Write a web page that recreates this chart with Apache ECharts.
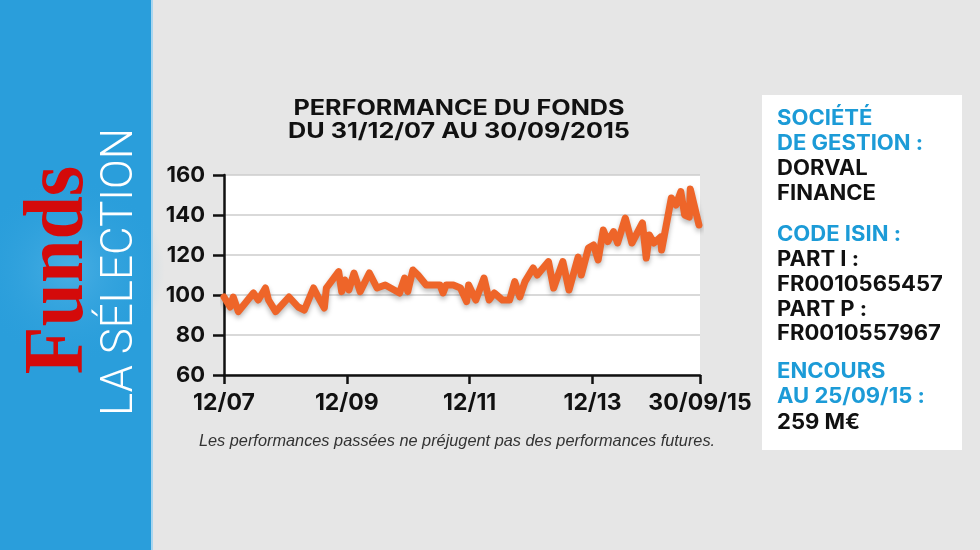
<!DOCTYPE html>
<html><head><meta charset="utf-8">
<script src="https://cdn.jsdelivr.net/npm/echarts@6/dist/echarts.min.js"></script>
<style>html,body{margin:0;padding:0;background:#e6e6e6;}#c{width:980px;height:550px;}</style>
</head><body><div id="c"></div>
<script>
// months elapsed since 31/12/2007 (x) and fund performance (base 100)
var monthsSinceDec07 = [0,1.2,1.8,2.8,5.75,6.7,8.1,8.7,10.1,12.7,14.5,15.7,17.5,18.4,19.6,20.0,22.4,23.0,23.6,24.4,25.4,26.6,28.4,29.9,31.5,34.3,35.3,35.9,36.9,37.9,39.5,42.2,42.8,43.4,44.8,46.2,47.4,47.8,49.2,50.8,51.8,52.8,54.4,55.8,56.8,57.8,58.8,60.4,61.2,63.4,64.4,66.2,67.4,69.2,69.8,71.2,72.2,73.1,74.1,75.0,76.1,76.9,78.4,79.7,81.75,82.5,83.1,84.0,85.3,85.5,87.4,88.3,89.25,90.0,90.9,91.1,92.8];
var performance = [99,94,99,91.7,101,97.5,103.5,97.5,91.7,99,94,92.5,103.5,99,93.5,103.5,111.7,101.7,107.5,102.5,111,101.7,111,103.5,105,101,108.5,101.7,112.5,110,105,105,101,105,105,103.5,96.7,105,97.5,108.5,97.5,101,97.5,97.5,106.7,99,106.7,113.5,110,116.7,103.5,116.7,102.5,119,110,123.5,125,117.5,132.5,126.7,131.7,126,138.5,126,136,118.5,130,126,129,122.5,148.5,145,151.7,140,139,153,135];
var xTickMonths = [0,24,48,72,93];
var xTickLabels = ['12/07','12/09','12/11','12/13','30/09/15'];
var titleLines = ['PERFORMANCE DU FONDS','DU 31/12/07 AU 30/09/2015'];
var footnote = 'Les performances passées ne préjugent pas des performances futures.';
var sideLines = [
  ['SOCIÉTÉ','blue'],['DE GESTION :','blue'],['DORVAL','black'],['FINANCE','black'],
  ['CODE ISIN :','blue'],['PART I :','black'],['FR0010565457','black'],['PART P :','black'],['FR0010557967','black'],
  ['ENCOURS','blue'],['AU 25/09/15 :','blue'],['259 M€','black']
];
var sideY = [119,143.5,168.5,193.5,235,260,285,309.5,333.5,372,397,422.5];

var SANS = 'Inter, "Liberation Sans", Arial, sans-serif';
var chart = echarts.init(document.getElementById('c'));
var seriesData = monthsSinceDec07.map(function(m,i){return [m, performance[i]];});
var graphics = [
  {type:'rect', shape:{x:0,y:0,width:152,height:550}, style:{fill:'#2a9edb'}},
  {type:'circle', shape:{cx:70,cy:270,r:95}, style:{fill:{type:'radial',x:0.5,y:0.5,r:0.5,colorStops:[{offset:0,color:'rgba(110,195,238,0.45)'},{offset:1,color:'rgba(42,158,219,0)'}]}}},
  {type:'rect', shape:{x:151,y:0,width:2,height:550}, style:{fill:'#a9d6ef'}},
  {type:'text', x:60, y:270, rotation:Math.PI/2, scaleX:0.93, style:{text:'Funds', fill:'#d40a0a', font:'bold 84px "Liberation Serif", serif', align:'center', verticalAlign:'middle'}},
  {type:'text', x:121, y:272, rotation:Math.PI/2, style:{text:'LA SÉLECTION', fill:'#ffffff', font:'300 44px Roboto, "Liberation Sans", sans-serif', align:'center', verticalAlign:'middle'}},
  {type:'text', x:459, y:109, scaleX:1.2, style:{text:titleLines[0], fill:'#111', font:'bold 21px '+SANS, align:'center', verticalAlign:'middle'}},
  {type:'text', x:459, y:132, scaleX:1.2, style:{text:titleLines[1], fill:'#111', font:'bold 21px '+SANS, align:'center', verticalAlign:'middle'}},
  {type:'text', x:457, y:441, scaleX:0.96, style:{text:footnote, fill:'#333', font:'italic 17px "Liberation Sans", sans-serif', align:'center', verticalAlign:'middle'}},
  {type:'rect', shape:{x:762,y:95,width:200,height:355}, style:{fill:'#ffffff'}}
];
sideLines.forEach(function(l,i){
  graphics.push({type:'text', x:777, y:sideY[i], scaleX:1.05, style:{text:l[0], fill:l[1]==='blue'?'#1c9bd7':'#111', font:'bold 21px '+SANS, align:'left', verticalAlign:'middle'}});
});

chart.setOption({
  animation:false,
  backgroundColor:'#e6e6e6',
  grid:{left:224,right:280,top:175,bottom:175,show:true,backgroundColor:'#ffffff',borderWidth:0},
  xAxis:{type:'value',min:0,max:93,
    axisLine:{show:true,onZero:false,lineStyle:{color:'#111',width:2.5}},
    axisTick:{show:true,customValues:xTickMonths,length:9,lineStyle:{color:'#111',width:2.5}},
    axisLabel:{customValues:xTickMonths,margin:17,color:'#111',fontSize:23,fontWeight:'bold',fontFamily:SANS,
      formatter:function(v){var i=xTickMonths.indexOf(v);return i>=0?xTickLabels[i]:'';}},
    splitLine:{show:false}},
  yAxis:{type:'value',min:60,max:160,interval:20,
    axisLine:{show:true,lineStyle:{color:'#111',width:2.5}},
    axisTick:{show:true,length:11,lineStyle:{color:'#111',width:2.5}},
    axisLabel:{margin:19,color:'#111',fontSize:22,fontWeight:'bold',fontFamily:SANS},
    splitLine:{show:true,lineStyle:{color:'#cccccc',width:1.5}}},
  series:[{type:'line',data:seriesData,symbol:'none',z:3,
    lineStyle:{color:'#ee6529',width:7,join:'round',cap:'round',shadowColor:'rgba(0,0,0,0.28)',shadowBlur:5,shadowOffsetY:3}}],
  graphic:graphics
});
</script></body></html>
